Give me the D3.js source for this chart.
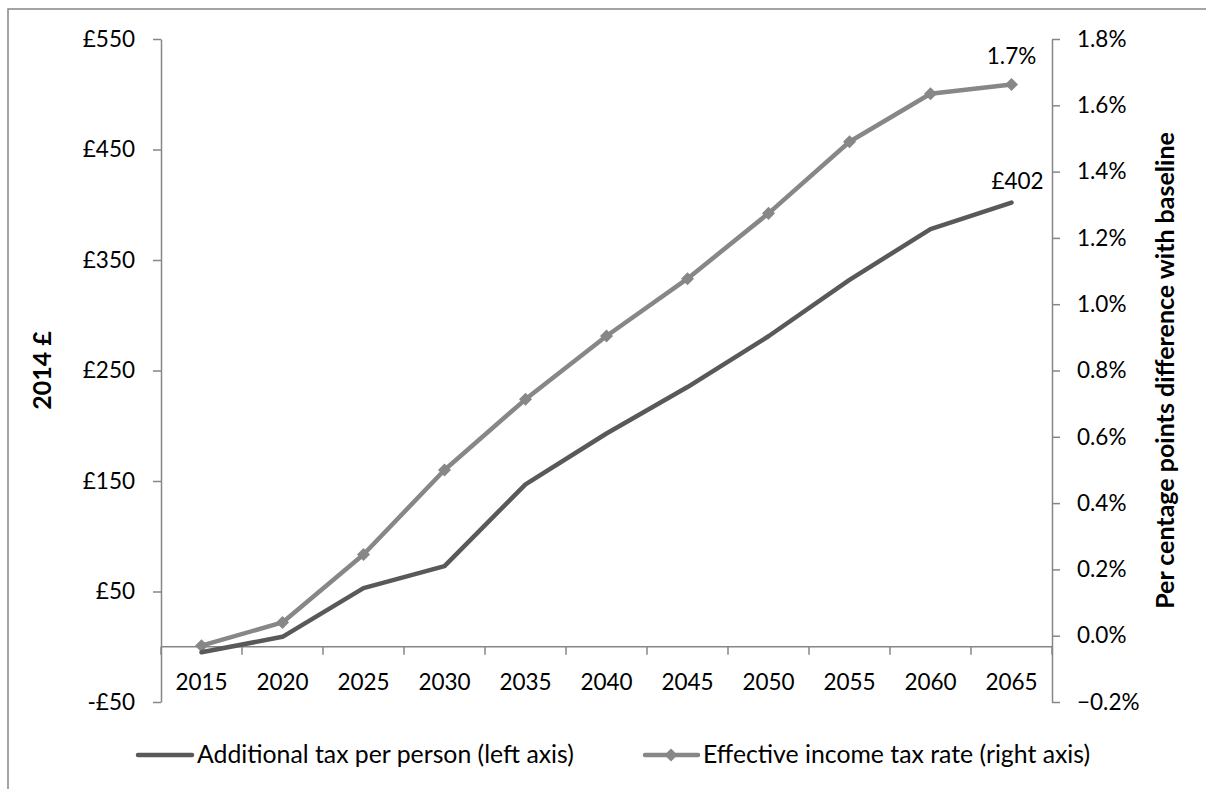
<!DOCTYPE html>
<html>
<head>
<meta charset="utf-8">
<script src="https://cdn.jsdelivr.net/npm/d3@7"></script>
<style>
  body { margin: 0; background: #fff; }
  svg text { font-family: Lato, "Open Sans", sans-serif; fill: #000; }
</style>
</head>
<body>
<svg id="chart"></svg>
<script>
// Data
const years = ['2015','2020','2025','2030','2035','2040','2045','2050','2055','2060','2065']
const extraTax = [-5, 9, 53, 73, 147, 193, 235, 281, 332, 378, 402]           // £ per person, left axis
const taxRate = [-0.03, 0.04, 0.245, 0.50, 0.713, 0.904, 1.077, 1.274, 1.49, 1.635, 1.663] // % points, right axis
const leftTicks = [-50, 50, 150, 250, 350, 450, 550]
const rightTicks = [-0.2, 0, 0.2, 0.4, 0.6, 0.8, 1.0, 1.2, 1.4, 1.6, 1.8]
const seriesNames = ['Additional tax per person (left axis)', 'Effective income tax rate (right axis)']

const W = 1206, H = 789
const plot = { left: 161, right: 1052, top: 39, bottom: 702 }
const axisGrey = '#868686'
const darkLine = '#595959'
const lightLine = '#878787'

const svg = d3.select('#chart').attr('width', W).attr('height', H)

// outer chart border (runs off the bottom/right of the picture)
svg.append('rect')
    .attr('x', 8).attr('y', 9)
    .attr('width', 1400).attr('height', 1000)
    .attr('fill', 'none').attr('stroke', axisGrey).attr('stroke-width', 1.5)

const x = d3.scaleBand().domain(years).range([plot.left, plot.right]).padding(0)
const yL = d3.scaleLinear().domain([-50, 550]).range([plot.bottom, plot.top])
const yR = d3.scaleLinear().domain([-0.2, 1.8]).range([plot.bottom, plot.top])
const cx = d => x(d) + x.bandwidth() / 2

// left axis
const gL = svg.append('g')
    .attr('transform', `translate(${plot.left},0)`)
    .call(d3.axisLeft(yL).tickValues(leftTicks).tickSize(8).tickSizeOuter(0).tickPadding(18)
        .tickFormat(d => (d < 0 ? '-£' : '£') + Math.abs(d)))
// right axis
const gR = svg.append('g')
    .attr('transform', `translate(${plot.right},0)`)
    .call(d3.axisRight(yR).tickValues(rightTicks).tickSize(8).tickSizeOuter(0).tickPadding(17)
        .tickFormat(d => d3.format('.1f')(d) + '%'))

;[gL, gR].forEach(g => {
    g.select('.domain').attr('stroke', axisGrey).attr('stroke-width', 1.5)
    g.selectAll('.tick line').attr('stroke', axisGrey).attr('stroke-width', 1.5)
    g.selectAll('.tick text').attr('font-size', 22.5).attr('font-family', 'Lato').attr('fill', '#000')
})

// category axis sits on £0
const y0 = yL(0)
const gX = svg.append('g').attr('transform', `translate(0,${y0})`)
gX.append('line')
    .attr('x1', plot.left).attr('x2', plot.right)
    .attr('stroke', axisGrey).attr('stroke-width', 1.5)
gX.selectAll('line.tk')
    .data(years.map(d => x(d) + x.bandwidth()).concat([plot.left]))
    .join('line').attr('class', 'tk')
    .attr('x1', d => d).attr('x2', d => d)
    .attr('y1', 0).attr('y2', 8)
    .attr('stroke', axisGrey).attr('stroke-width', 1.5)
gX.selectAll('text')
    .data(years)
    .join('text')
    .attr('x', d => cx(d))
    .attr('y', 43)
    .attr('text-anchor', 'middle')
    .attr('font-size', 22.5)
    .text(d => d)

// axis titles
svg.append('text')
    .attr('transform', `translate(51,${(plot.top + plot.bottom) / 2}) rotate(-90)`)
    .attr('text-anchor', 'middle')
    .attr('font-size', 25).attr('font-weight', 'bold')
    .text('2014 £')
svg.append('text')
    .attr('transform', `translate(1174,${(plot.top + plot.bottom) / 2}) rotate(-90)`)
    .attr('text-anchor', 'middle')
    .attr('font-size', 25).attr('font-weight', 'bold')
    .text('Per centage points difference with baseline')

// lines
const lineL = d3.line().x((d, i) => cx(years[i])).y(d => yL(d))
const lineR = d3.line().x((d, i) => cx(years[i])).y(d => yR(d))

svg.append('path')
    .datum(taxRate)
    .attr('d', lineR)
    .attr('fill', 'none').attr('stroke', lightLine).attr('stroke-width', 4.5)
    .attr('stroke-linejoin', 'round')

// Excel-style diamond: a square turned 45 degrees
const diamond = d3.symbol().type(d3.symbolSquare).size(85)
svg.append('g')
    .selectAll('path')
    .data(taxRate)
    .join('path')
        .attr('d', diamond)
        .attr('transform', (d, i) => `translate(${cx(years[i])},${yR(d)}) rotate(45)`)
        .attr('fill', lightLine)

svg.append('path')
    .datum(extraTax)
    .attr('d', lineL)
    .attr('fill', 'none').attr('stroke', darkLine).attr('stroke-width', 4.5)
    .attr('stroke-linejoin', 'round').attr('stroke-linecap', 'round')

// end labels
const last = years.length - 1
svg.append('text')
    .attr('x', cx(years[last]) + 6).attr('y', yL(extraTax[last]) - 14)
    .attr('text-anchor', 'middle').attr('font-size', 22.5)
    .text('£' + extraTax[last])
svg.append('text')
    .attr('x', cx(years[last])).attr('y', yR(taxRate[last]) - 20)
    .attr('text-anchor', 'middle').attr('font-size', 22.5)
    .text(d3.format('.1f')(taxRate[last]) + '%')

// legend
const legY = 755
const leg = svg.append('g')
leg.append('line')
    .attr('x1', 138).attr('x2', 192).attr('y1', legY).attr('y2', legY)
    .attr('stroke', darkLine).attr('stroke-width', 4.5).attr('stroke-linecap', 'round')
leg.append('text')
    .attr('x', 197).attr('y', legY + 8).attr('font-size', 24.8)
    .text(seriesNames[0])
leg.append('line')
    .attr('x1', 645).attr('x2', 698).attr('y1', legY).attr('y2', legY)
    .attr('stroke', lightLine).attr('stroke-width', 4.5).attr('stroke-linecap', 'round')
leg.append('path')
    .attr('d', diamond)
    .attr('transform', `translate(671,${legY}) rotate(45)`)
    .attr('fill', lightLine)
leg.append('text')
    .attr('x', 703).attr('y', legY + 8).attr('font-size', 24.8)
    .text(seriesNames[1])
</script>
</body>
</html>
